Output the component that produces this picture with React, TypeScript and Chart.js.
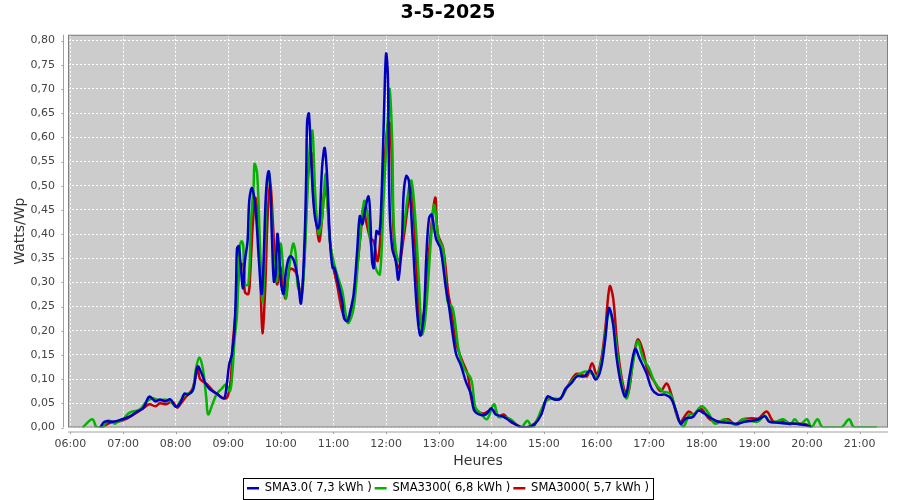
import React, { useEffect, useRef } from "react";
import { Chart, registerables } from "chart.js";

Chart.register(...registerables);

const TITLE = "3-5-2025";
const X_TITLE = "Heures";
const Y_TITLE = "Watts/Wp";
const HOUR_TICKS = [6, 7, 8, 9, 10, 11, 12, 13, 14, 15, 16, 17, 18, 19, 20, 21];
const Y_TICKS = [0, 0.05, 0.1, 0.15, 0.2, 0.25, 0.3, 0.35, 0.4, 0.45, 0.5, 0.55, 0.6, 0.65, 0.7, 0.75, 0.8];
const SERIES_NAMES = ["SMA3.0( 7,3 kWh )", "SMA3300( 6,8 kWh )", "SMA3000( 5,7 kWh )"];
const SERIES_COLORS = ["#0000c0", "#00b400", "#c00000"];

// [time, Watts/Wp]
const sma30: [string, number][] = [
  ["06:34", 0], ["06:39", 0.012], ["06:49", 0.012], ["06:59", 0.017], ["07:08", 0.023], ["07:16", 0.033],
  ["07:23", 0.04], ["07:30", 0.064], ["07:37", 0.054], ["07:42", 0.058], ["07:48", 0.054], ["07:54", 0.058],
  ["08:00", 0.043], ["08:05", 0.05], ["08:10", 0.07], ["08:14", 0.068], ["08:20", 0.079], ["08:25", 0.126],
  ["08:30", 0.11], ["08:34", 0.091], ["08:39", 0.079], ["08:47", 0.07], ["08:55", 0.06], ["08:58", 0.085],
  ["09:01", 0.13], ["09:04", 0.15], ["09:07", 0.2], ["09:09", 0.3], ["09:10", 0.37], ["09:12", 0.375],
  ["09:16", 0.296], ["09:17", 0.288], ["09:19", 0.344], ["09:22", 0.385], ["09:24", 0.47], ["09:27", 0.495],
  ["09:31", 0.454], ["09:35", 0.344], ["09:38", 0.276], ["09:40", 0.33], ["09:43", 0.483], ["09:46", 0.53],
  ["09:48", 0.495], ["09:50", 0.385], ["09:52", 0.302], ["09:54", 0.317], ["09:56", 0.4], ["09:58", 0.365],
  ["10:00", 0.3], ["10:03", 0.276], ["10:05", 0.31], ["10:08", 0.344], ["10:11", 0.354], ["10:15", 0.344],
  ["10:19", 0.31], ["10:23", 0.257], ["10:27", 0.385], ["10:29", 0.53], ["10:30", 0.634], ["10:32", 0.649],
  ["10:35", 0.537], ["10:38", 0.448], ["10:42", 0.412], ["10:44", 0.42], ["10:47", 0.537], ["10:50", 0.578],
  ["10:53", 0.51], ["10:56", 0.385], ["10:59", 0.33], ["11:01", 0.33], ["11:04", 0.309], ["11:10", 0.26],
  ["11:12", 0.226], ["11:16", 0.22], ["11:19", 0.24], ["11:23", 0.276], ["11:27", 0.365], ["11:30", 0.437],
  ["11:33", 0.42], ["11:35", 0.44], ["11:40", 0.478], ["11:42", 0.433], ["11:44", 0.344], ["11:46", 0.33],
  ["11:49", 0.406], ["11:52", 0.4], ["11:54", 0.44], ["11:57", 0.607], ["11:58", 0.675], ["12:00", 0.773],
  ["12:02", 0.73], ["12:04", 0.454], ["12:07", 0.37], ["12:11", 0.344], ["12:14", 0.306], ["12:18", 0.385],
  ["12:20", 0.483], ["12:23", 0.52], ["12:26", 0.51], ["12:30", 0.4], ["12:35", 0.247], ["12:39", 0.19],
  ["12:43", 0.234], ["12:46", 0.358], ["12:49", 0.433], ["12:52", 0.44], ["12:57", 0.39], ["13:02", 0.37],
  ["13:08", 0.292], ["13:12", 0.247], ["13:16", 0.193], ["13:20", 0.151], ["13:25", 0.13], ["13:31", 0.095],
  ["13:37", 0.068], ["13:40", 0.037], ["13:46", 0.027], ["13:54", 0.027], ["14:00", 0.04], ["14:05", 0.027],
  ["14:13", 0.023], ["14:20", 0.015], ["14:28", 0.006], ["14:35", 0], ["14:41", 0], ["14:49", 0.006],
  ["14:57", 0.027], ["15:04", 0.064], ["15:12", 0.058], ["15:19", 0.06], ["15:25", 0.081], ["15:31", 0.091],
  ["15:38", 0.106], ["15:46", 0.106], ["15:53", 0.118], ["15:59", 0.099], ["16:05", 0.122], ["16:10", 0.184],
  ["16:14", 0.247], ["16:18", 0.226], ["16:23", 0.143], ["16:28", 0.089], ["16:33", 0.064], ["16:38", 0.11],
  ["16:44", 0.162], ["16:49", 0.143], ["16:57", 0.112], ["17:03", 0.08], ["17:10", 0.068], ["17:18", 0.068],
  ["17:25", 0.06], ["17:31", 0.033], ["17:36", 0.008], ["17:42", 0.019], ["17:50", 0.022], ["17:56", 0.035],
  ["18:03", 0.029], ["18:11", 0.019], ["18:19", 0.012], ["18:30", 0.01], ["18:41", 0.008], ["18:49", 0.012],
  ["18:57", 0.014], ["19:05", 0.017], ["19:12", 0.023], ["19:17", 0.012], ["19:27", 0.01], ["19:39", 0.008],
  ["19:46", 0.008], ["19:54", 0.006], ["20:05", 0.002],
];

const sma3300: [string, number][] = [
  ["06:14", 0], ["06:25", 0.017], ["06:30", 0], ["06:37", 0], ["06:42", 0.014], ["06:47", 0.012],
  ["06:51", 0.008], ["06:54", 0.012], ["07:00", 0.017], ["07:06", 0.029], ["07:11", 0.033], ["07:19", 0.037],
  ["07:27", 0.054], ["07:34", 0.06], ["07:42", 0.056], ["07:48", 0.058], ["07:54", 0.054], ["08:01", 0.043],
  ["08:05", 0.054], ["08:11", 0.068], ["08:19", 0.075], ["08:23", 0.12], ["08:27", 0.145], ["08:31", 0.122],
  ["08:35", 0.06], ["08:37", 0.027], ["08:42", 0.048], ["08:47", 0.07], ["08:53", 0.081], ["08:57", 0.089],
  ["09:02", 0.075], ["09:05", 0.12], ["09:07", 0.178], ["09:10", 0.234], ["09:13", 0.37], ["09:15", 0.385],
  ["09:17", 0.378], ["09:19", 0.296], ["09:23", 0.296], ["09:26", 0.427], ["09:29", 0.503], ["09:30", 0.545],
  ["09:33", 0.524], ["09:36", 0.385], ["09:39", 0.261], ["09:41", 0.317], ["09:44", 0.495], ["09:47", 0.524],
  ["09:49", 0.454], ["09:52", 0.338], ["09:55", 0.302], ["09:57", 0.33], ["10:00", 0.38], ["10:03", 0.317],
  ["10:06", 0.267], ["10:09", 0.323], ["10:14", 0.38], ["10:17", 0.358], ["10:19", 0.296], ["10:22", 0.282],
  ["10:25", 0.288], ["10:30", 0.47], ["10:33", 0.58], ["10:36", 0.613], ["10:39", 0.49], ["10:43", 0.4],
  ["10:47", 0.433], ["10:51", 0.524], ["10:53", 0.468], ["10:56", 0.385], ["11:00", 0.344], ["11:04", 0.317],
  ["11:10", 0.282], ["11:14", 0.234], ["11:17", 0.216], ["11:23", 0.247], ["11:29", 0.365], ["11:35", 0.468],
  ["11:39", 0.44], ["11:42", 0.385], ["11:48", 0.33], ["11:53", 0.317], ["11:57", 0.468], ["12:02", 0.64],
  ["12:04", 0.7], ["12:07", 0.59], ["12:09", 0.41], ["12:14", 0.344], ["12:20", 0.41], ["12:26", 0.495],
  ["12:29", 0.51], ["12:33", 0.44], ["12:37", 0.317], ["12:41", 0.193], ["12:44", 0.215], ["12:47", 0.276],
  ["12:52", 0.41], ["12:55", 0.46], ["13:00", 0.39], ["13:05", 0.37], ["13:10", 0.261], ["13:16", 0.247],
  ["13:23", 0.158], ["13:29", 0.122], ["13:37", 0.1], ["13:42", 0.04], ["13:48", 0.029], ["13:55", 0.017],
  ["14:03", 0.048], ["14:08", 0.022], ["14:14", 0.022], ["14:22", 0.017], ["14:34", 0], ["14:41", 0.014],
  ["14:47", 0], ["14:53", 0.019], ["15:02", 0.054], ["15:10", 0.06], ["15:19", 0.06], ["15:25", 0.079],
  ["15:33", 0.099], ["15:40", 0.11], ["15:48", 0.116], ["15:56", 0.11], ["16:00", 0.102], ["16:07", 0.151],
  ["16:14", 0.24], ["16:20", 0.205], ["16:26", 0.122], ["16:34", 0.06], ["16:40", 0.116], ["16:47", 0.178],
  ["16:53", 0.143], ["17:00", 0.122], ["17:06", 0.095], ["17:15", 0.075], ["17:24", 0.07], ["17:33", 0.019],
  ["17:39", 0.002], ["17:46", 0.027], ["17:51", 0.027], ["18:00", 0.044], ["18:08", 0.029], ["18:15", 0.008],
  ["18:26", 0.017], ["18:35", 0.008], ["18:41", 0.006], ["18:47", 0.017], ["18:55", 0.014], ["19:04", 0.012],
  ["19:12", 0.025], ["19:17", 0.012], ["19:25", 0.012], ["19:33", 0.017], ["19:41", 0.006], ["19:46", 0.017],
  ["19:52", 0.006], ["20:00", 0.017], ["20:05", 0], ["20:12", 0.017], ["20:18", 0], ["20:39", 0],
  ["20:48", 0.017], ["20:54", 0], ["21:20", 0],
];

const sma3000: [string, number][] = [
  ["06:36", 0], ["06:43", 0.008], ["06:49", 0.012], ["06:54", 0.012], ["07:05", 0.019], ["07:14", 0.029],
  ["07:23", 0.04], ["07:30", 0.048], ["07:37", 0.044], ["07:42", 0.05], ["07:49", 0.048], ["07:56", 0.054],
  ["08:02", 0.041], ["08:06", 0.05], ["08:12", 0.064], ["08:19", 0.079], ["08:25", 0.12], ["08:28", 0.1],
  ["08:36", 0.089], ["08:43", 0.075], ["08:51", 0.064], ["08:57", 0.06], ["09:00", 0.068], ["09:03", 0.1],
  ["09:05", 0.17], ["09:10", 0.267], ["09:13", 0.33], ["09:17", 0.338], ["09:19", 0.28], ["09:23", 0.276],
  ["09:25", 0.317], ["09:28", 0.42], ["09:31", 0.475], ["09:35", 0.4], ["09:37", 0.288], ["09:39", 0.195],
  ["09:42", 0.282], ["09:45", 0.44], ["09:48", 0.503], ["09:51", 0.42], ["09:54", 0.317], ["09:56", 0.296],
  ["09:59", 0.333], ["10:02", 0.302], ["10:05", 0.267], ["10:07", 0.288], ["10:10", 0.327], ["10:14", 0.327],
  ["10:18", 0.317], ["10:21", 0.288], ["10:24", 0.276], ["10:28", 0.4], ["10:30", 0.5], ["10:35", 0.568],
  ["10:37", 0.48], ["10:42", 0.4], ["10:44", 0.385], ["10:47", 0.433], ["10:50", 0.493], ["10:53", 0.468],
  ["10:56", 0.385], ["11:00", 0.33], ["11:04", 0.296], ["11:11", 0.234], ["11:16", 0.226], ["11:22", 0.247],
  ["11:27", 0.33], ["11:31", 0.4], ["11:34", 0.454], ["11:38", 0.42], ["11:42", 0.392], ["11:46", 0.385],
  ["11:50", 0.344], ["11:53", 0.38], ["11:58", 0.537], ["12:02", 0.628], ["12:05", 0.628], ["12:09", 0.385],
  ["12:14", 0.33], ["12:20", 0.392], ["12:26", 0.475], ["12:29", 0.503], ["12:35", 0.323], ["12:39", 0.213],
  ["12:44", 0.247], ["12:49", 0.365], ["12:56", 0.475], ["12:59", 0.4], ["13:05", 0.371], ["13:11", 0.276],
  ["13:14", 0.247], ["13:20", 0.174], ["13:27", 0.137], ["13:33", 0.11], ["13:38", 0.054], ["13:44", 0.035],
  ["13:51", 0.029], ["14:01", 0.037], ["14:09", 0.023], ["14:14", 0.027], ["14:22", 0.012], ["14:26", 0.008],
  ["14:37", 0], ["14:49", 0.008], ["14:57", 0.029], ["15:04", 0.06], ["15:14", 0.058], ["15:19", 0.06],
  ["15:27", 0.085], ["15:36", 0.11], ["15:42", 0.11], ["15:49", 0.106], ["15:55", 0.133], ["16:00", 0.11],
  ["16:05", 0.137], ["16:10", 0.205], ["16:15", 0.292], ["16:19", 0.267], ["16:24", 0.164], ["16:31", 0.081],
  ["16:36", 0.07], ["16:42", 0.143], ["16:47", 0.182], ["16:53", 0.158], ["16:58", 0.12], ["17:06", 0.095],
  ["17:13", 0.075], ["17:20", 0.091], ["17:25", 0.07], ["17:35", 0.012], ["17:45", 0.033], ["17:51", 0.027],
  ["17:59", 0.039], ["18:09", 0.017], ["18:19", 0.012], ["18:30", 0.017], ["18:38", 0.006], ["18:47", 0.017],
  ["18:57", 0.019], ["19:05", 0.019], ["19:14", 0.033], ["19:22", 0.012], ["19:33", 0.014], ["19:41", 0.008],
  ["19:52", 0.008], ["20:00", 0.006], ["20:05", 0],
];

const SERIES = [sma30, sma3300, sma3000];

const toHours = (t: string) => {
  const [h, m] = t.split(":").map(Number);
  return h + m / 60;
};

const framePlugin = {
  id: "frame",
  beforeDraw(chart: any) {
    const { ctx, chartArea: a } = chart;
    ctx.save();
    ctx.fillStyle = "#cccccc";
    ctx.fillRect(a.left, a.top, a.right - a.left, a.bottom - a.top);
    ctx.restore();
  },
  afterLayout(chart: any) {
    const l = chart.legend;
    if (l) {
      l.top += 4;
      l.bottom += 4;
    }
  },
  afterDraw(chart: any) {
    const { ctx, chartArea: a, scales } = chart;
    ctx.save();
    ctx.lineWidth = 1;
    ctx.strokeStyle = "#808080";
    ctx.strokeRect(a.left + 0.5, a.top + 0.5, a.right - a.left - 1, a.bottom - a.top - 1);
    ctx.strokeStyle = "#a0a0a0";
    ctx.beginPath();
    const ax = a.left - 4.5;
    ctx.moveTo(ax, a.top);
    ctx.lineTo(ax, a.bottom);
    for (const v of Y_TICKS) {
      const y = Math.round(scales.y.getPixelForValue(v)) + 0.5;
      ctx.moveTo(ax - 2, y);
      ctx.lineTo(ax, y);
    }
    const ay = a.bottom + 4.5;
    ctx.moveTo(a.left, ay);
    ctx.lineTo(a.right, ay);
    for (const v of HOUR_TICKS) {
      const x = Math.round(scales.x.getPixelForValue(v)) + 0.5;
      ctx.moveTo(x, ay);
      ctx.lineTo(x, ay + 2);
    }
    ctx.stroke();
    const l = chart.legend;
    if (l && l.legendHitBoxes && l.legendHitBoxes.length) {
      const hb = l.legendHitBoxes;
      const left = Math.min(...hb.map((h: any) => h.left));
      const right = Math.max(...hb.map((h: any) => h.left + h.width));
      const top = Math.min(...hb.map((h: any) => h.top));
      const bottom = Math.max(...hb.map((h: any) => h.top + h.height));
      ctx.strokeStyle = "#000000";
      ctx.strokeRect(Math.round(left - 4) + 0.5, Math.round(top - 5) + 0.5, Math.round(right - left + 8), Math.round(bottom - top + 9));
    }
    ctx.restore();
  },
};

export default function App() {
  const canvasRef = useRef<HTMLCanvasElement | null>(null);

  useEffect(() => {
    if (!canvasRef.current) return;
    const datasets = SERIES.map((s, i) => ({
      label: SERIES_NAMES[i],
      data: s.map(([t, v]) => ({ x: toHours(t), y: v })),
      borderColor: SERIES_COLORS[i],
      backgroundColor: SERIES_COLORS[i],
      borderWidth: 2.5,
      pointRadius: 0,
      tension: 0.35,
      fill: false,
    }));

    const chart = new Chart(canvasRef.current, {
      type: "line",
      data: { datasets },
      plugins: [framePlugin],
      options: {
        animation: false,
        responsive: false,
        maintainAspectRatio: false,
        parsing: false,
        layout: { padding: { left: 8, right: 12, top: 0, bottom: 0 } },
        plugins: {
          title: {
            display: true,
            text: TITLE,
            color: "#000000",
            font: { family: "DejaVu Sans", size: 19, weight: "bold" },
            padding: { top: 2, bottom: 10 },
          },
          legend: {
            display: true,
            position: "bottom",
            labels: {
              usePointStyle: true,
              pointStyle: "line",
              pointStyleWidth: 12,
              padding: 3,
              color: "#000000",
              font: { family: "DejaVu Sans", size: 11.5 },
            },
          },
          tooltip: { enabled: false },
        },
        scales: {
          x: {
            type: "linear",
            min: 5.954,
            max: 21.54,
            afterBuildTicks: (scale: any) => {
              scale.ticks = HOUR_TICKS.map((v) => ({ value: v }));
            },
            afterFit: (scale: any) => {
              scale.height = 48;
            },
            ticks: {
              autoSkip: false,
              maxRotation: 0,
              padding: 10,
              color: "#444444",
              font: { family: "DejaVu Sans", size: 11 },
              callback: (v: any) => String(v).padStart(2, "0") + ":00",
            },
            grid: { color: "#ffffff", lineWidth: 1, drawTicks: false },
            border: { display: false, dash: [2, 2] },
            title: {
              display: true,
              text: X_TITLE,
              color: "#333333",
              font: { family: "DejaVu Sans", size: 14 },
              padding: { top: 0, bottom: 6 },
            },
          },
          y: {
            type: "linear",
            min: 0,
            max: 0.812,
            afterBuildTicks: (scale: any) => {
              scale.ticks = Y_TICKS.map((v) => ({ value: v }));
            },
            afterFit: (scale: any) => {
              scale.width = 60;
            },
            ticks: {
              autoSkip: false,
              padding: 13,
              color: "#444444",
              font: { family: "DejaVu Sans", size: 11 },
              callback: (v: any) => Number(v).toFixed(2).replace(".", ","),
            },
            grid: { color: "#ffffff", lineWidth: 1, drawTicks: false },
            border: { display: false, dash: [2, 2] },
            title: {
              display: true,
              text: Y_TITLE,
              color: "#333333",
              font: { family: "DejaVu Sans", size: 14 },
              padding: { top: 4, bottom: 0 },
            },
          },
        },
      } as any,
    });
    return () => chart.destroy();
  }, []);

  return (
    <div style={{ position: "fixed", left: 0, top: 0, width: 900, height: 500, background: "#ffffff" }}>
      <canvas ref={canvasRef} width={900} height={500} style={{ width: 900, height: 500, display: "block" }} />
    </div>
  );
}
